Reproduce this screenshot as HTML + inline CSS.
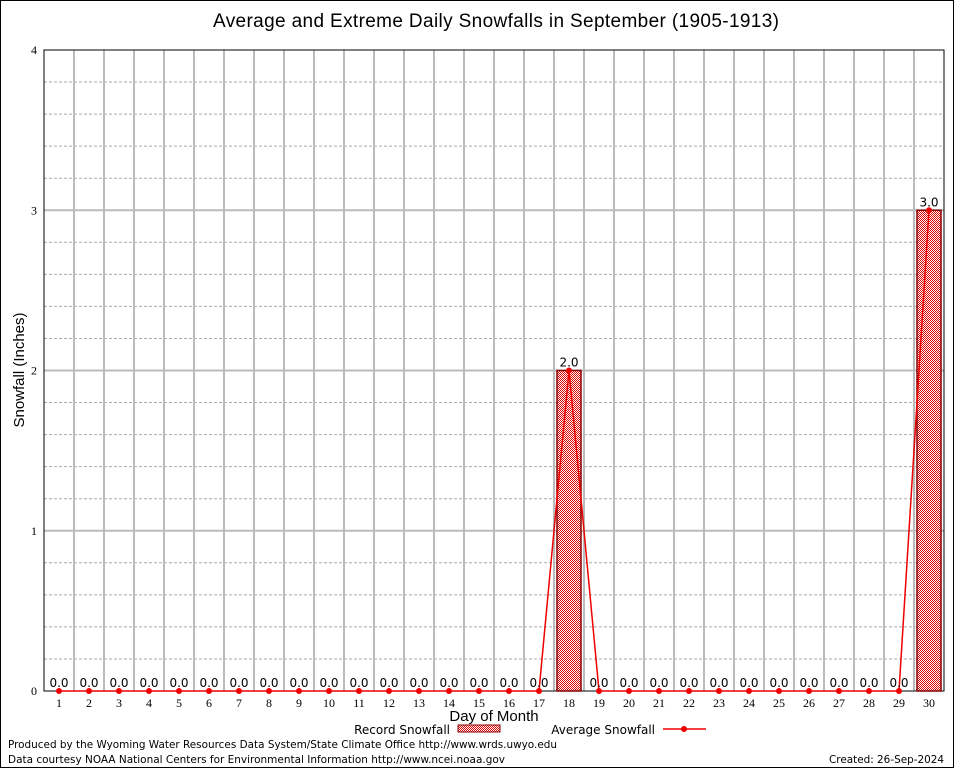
<!DOCTYPE html>
<html><head><meta charset="utf-8"><style>
body{margin:0;background:#fff;}
svg{display:block;font-family:"DejaVu Sans","Liberation Sans",sans-serif;}
</style></head><body>
<svg id="chart" width="954" height="768">
<defs><pattern id="chk" width="2" height="2" patternUnits="userSpaceOnUse"><rect width="2" height="2" fill="#fff"/><rect width="1" height="1" fill="#d00"/><rect x="1" y="1" width="1" height="1" fill="#d00"/></pattern></defs>
<rect x="0.5" y="0.5" width="953" height="767" fill="#fff" stroke="#000"/>
<text x="496" y="27" font-size="19" text-anchor="middle" textLength="566" font-family="Liberation Sans, sans-serif">Average and Extreme Daily Snowfalls in September (1905-1913)</text>
<g id="grid"></g><g id="bars"></g><g id="line"></g><g id="labels"></g>
<text x="24" y="370" font-size="15" text-anchor="middle" transform="rotate(-90 24 370)" font-family="Liberation Sans, sans-serif">Snowfall (Inches)</text>
<text x="494" y="721" font-size="15" text-anchor="middle" font-family="Liberation Sans, sans-serif">Day of Month</text>
<g>
<text x="450" y="734" font-size="12" text-anchor="end">Record Snowfall</text>
<rect x="458" y="725" width="42" height="7" fill="url(#chk)" stroke="#800"/>
<text x="655" y="734" font-size="12" text-anchor="end">Average Snowfall</text>
<line x1="663" y1="729" x2="706" y2="729" stroke="#e00" stroke-width="1.5"/>
<circle cx="684" cy="729" r="3" fill="#e00"/>
</g>
<text x="8" y="748" font-size="11" textLength="549" lengthAdjust="spacingAndGlyphs">Produced by the Wyoming Water Resources Data System/State Climate Office http://www.wrds.uwyo.edu</text>
<text x="8" y="763" font-size="11" textLength="497" lengthAdjust="spacingAndGlyphs">Data courtesy NOAA National Centers for Environmental Information http://www.ncei.noaa.gov</text>
<text x="829" y="763" font-size="11" textLength="115" lengthAdjust="spacingAndGlyphs">Created:  26-Sep-2024</text>
</svg>
<script>
const days=[1,2,3,4,5,6,7,8,9,10,11,12,13,14,15,16,17,18,19,20,21,22,23,24,25,26,27,28,29,30];
const recordSnow=[0,0,0,0,0,0,0,0,0,0,0,0,0,0,0,0,0,2.0,0,0,0,0,0,0,0,0,0,0,0,3.0];
const avgSnow=[0,0,0,0,0,0,0,0,0,0,0,0,0,0,0,0,0,2.0,0,0,0,0,0,0,0,0,0,0,0,3.0];
const yTicks=[0,1,2,3,4];
const L=44,R=944,T=50,B=691,yMax=4;
const x=d=>L+(d-0.5)*(R-L)/30;
const y=v=>B-v*(B-T)/yMax;
const NS='http://www.w3.org/2000/svg';
function mk(tag,attrs,parent,text){const e=document.createElementNS(NS,tag);for(const k in attrs)e.setAttribute(k,attrs[k]);if(text!==undefined)e.textContent=text;parent.appendChild(e);return e;}
const grid=document.getElementById('grid'),bars=document.getElementById('bars'),line=document.getElementById('line'),labels=document.getElementById('labels');
for(let i=1;i<20;i++){if(i%5===0)continue;const v=i*0.2;const l=mk('line',{x1:L,x2:R,y1:y(v),y2:y(v),stroke:'#aaa','stroke-dasharray':'3,2'},grid);

}
for(let k=1;k<30;k++){const l=mk('line',{x1:L+k*30,x2:L+k*30,y1:T,y2:B,stroke:'#bbb','stroke-width':2},grid);

}
yTicks.forEach(t=>{if(t>0&&t<yMax){const l=mk('line',{x1:L,x2:R,y1:y(t),y2:y(t),stroke:'#bbb','stroke-width':2},grid);

}
const tx=mk('text',{x:L-7,y:y(t)+4,'font-size':12,'text-anchor':'end','font-family':'Liberation Serif, serif'},labels,String(t));

});
const fr=mk('rect',{x:L,y:T,width:R-L,height:B-T,fill:'none',stroke:'#000'},grid);


days.forEach((d,i)=>{const v=recordSnow[i];
if(v>0){const b=mk('rect',{x:x(d)-12,y:y(v),width:24,height:B-y(v),fill:'url(#chk)',stroke:'#800','stroke-width':1.5},bars);

}
const lb=mk('text',{x:x(d),y:y(v)-4,'font-size':12,'text-anchor':'middle'},labels,v.toFixed(1));


const tk=mk('text',{x:x(d),y:B+16,'font-size':12,'text-anchor':'middle','font-family':'Liberation Serif, serif'},labels,String(d));

});
const pl=mk('polyline',{points:days.map((d,i)=>x(d)+','+y(avgSnow[i])).join(' '),fill:'none',stroke:'#e00','stroke-width':1.5},line);


days.forEach((d,i)=>{const c=mk('circle',{cx:x(d),cy:y(avgSnow[i]),r:3,fill:'#e00'},line);

});
</script>
</body></html>
